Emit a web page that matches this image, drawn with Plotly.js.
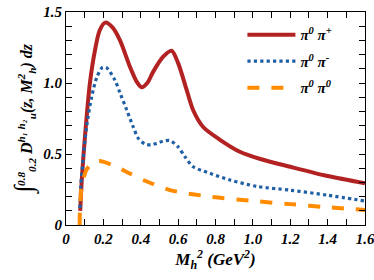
<!DOCTYPE html>
<html><head><meta charset="utf-8">
<script src="https://cdn.plot.ly/plotly-3.0.1.min.js"></script>
<style>html,body{margin:0;padding:0;background:#fff}#chart{width:374px;height:280px}</style>
</head><body><div id="chart"></div>
<script>
// pi0 pi+
const xPlus = [0.076,0.085,0.10,0.128,0.155,0.18,0.21,0.25,0.289,0.342,0.378,0.405,0.435,0.467,0.52,0.565,0.60,0.646,0.68,0.734,0.824,0.93,1.04,1.2,1.4,1.6];
const yPlus = [0.10,0.33,0.60,1.00,1.23,1.37,1.425,1.39,1.30,1.115,1.01,0.97,1.00,1.08,1.185,1.227,1.14,0.95,0.81,0.69,0.60,0.516,0.465,0.41,0.345,0.294];
// pi0 pi-
const xMinus = [0.075,0.079,0.093,0.11,0.137,0.165,0.195,0.215,0.262,0.289,0.325,0.36,0.387,0.423,0.455,0.485,0.52,0.555,0.60,0.637,0.681,0.77,0.877,1.02,1.2,1.4,1.6];
const yMinus = [0.12,0.27,0.48,0.69,0.90,1.04,1.11,1.11,1.02,0.93,0.81,0.69,0.61,0.57,0.565,0.575,0.59,0.595,0.55,0.48,0.41,0.364,0.317,0.272,0.245,0.21,0.169];
// pi0 pi0
const xZero = [0.073,0.075,0.084,0.11,0.146,0.18,0.253,0.33,0.414,0.556,0.77,1.02,1.2,1.4,1.6];
const yZero = [0.0,0.12,0.27,0.39,0.44,0.45,0.42,0.37,0.317,0.246,0.20,0.167,0.147,0.125,0.106];

const names = ["π<sup>0</sup> π<sup>+</sup>", "π<sup>0</sup> π<sup>-</sup>", "π<sup>0</sup> π<sup>0</sup>"];
const xTickVals = [0,0.2,0.4,0.6,0.8,1.0,1.2,1.4,1.6];
const xTickText = ["0","0.2","0.4","0.6","0.8","1.0","1.2","1.4","1.6"];
const yTickVals = [0,0.5,1.0,1.5];
const yTickText = ["0","0.5","1.0","1.5"];

const serif = "Liberation Serif";
const traces = [
  {x:xPlus, y:yPlus, name:names[0], legendgroup:"a", mode:"lines", line:{color:"#b22222", width:4, shape:"spline", smoothing:0.8}},
  {x:xMinus, y:yMinus, name:names[1], legendgroup:"b", mode:"lines", line:{color:"#1f5fa5", width:3.2, dash:"dot", shape:"spline", smoothing:0.8}},
  {x:xZero, y:yZero, name:names[2], legendgroup:"c", mode:"lines", line:{color:"#ff8c00", width:4, dash:"dash", shape:"spline", smoothing:0.8}}
];
const axisCommon = {
  showgrid:false, zeroline:false, showline:true, linecolor:"#000", linewidth:1, mirror:"ticks",
  ticks:"inside", ticklen:6, tickcolor:"#000", ticklabeloverflow:"allow",
  tickfont:{family:serif, size:15, weight:"bold", style:"italic", color:"#000"},
  minor:{dtick:0.1, ticks:"inside", ticklen:6, tickcolor:"#000"}
};
const layout = {
  width:374, height:280,
  margin:{l:66, r:9, t:12, b:55},
  paper_bgcolor:"#fff", plot_bgcolor:"#fff",
  font:{family:serif, color:"#000"},
  showlegend:true,
  legend:{x:0.59, y:0.97, xanchor:"left", yanchor:"top", bgcolor:"rgba(0,0,0,0)", borderwidth:0,
    itemwidth:48, tracegroupgap:4,
    font:{family:serif, size:15, weight:"bold", style:"italic", color:"#000"}},
  xaxis:Object.assign({}, axisCommon, {range:[0,1.6], tickmode:"array", tickvals:xTickVals, ticktext:xTickText,
    title:{text:"M<sub>h</sub><sup>2</sup> (GeV<sup>2</sup>)", standoff:4,
      font:{family:serif, size:17, weight:"bold", style:"italic", color:"#000"}}}),
  yaxis:Object.assign({}, axisCommon, {range:[0,1.5], tickmode:"array", tickvals:yTickVals, ticktext:yTickText,
    title:{text:"<span style=\"font-size:26px\">∫</span><sup>0.8</sup><sub>0.2</sub> D<sup>h₁ h₂</sup><sub>u</sub>(z, M<sup>2</sup><sub>h</sub>) dz", standoff:6,
      font:{family:serif, size:16, weight:"bold", style:"italic", color:"#000"}}})
};
Plotly.newPlot("chart", traces, layout, {displayModeBar:false, staticPlot:true});
</script></body></html>
